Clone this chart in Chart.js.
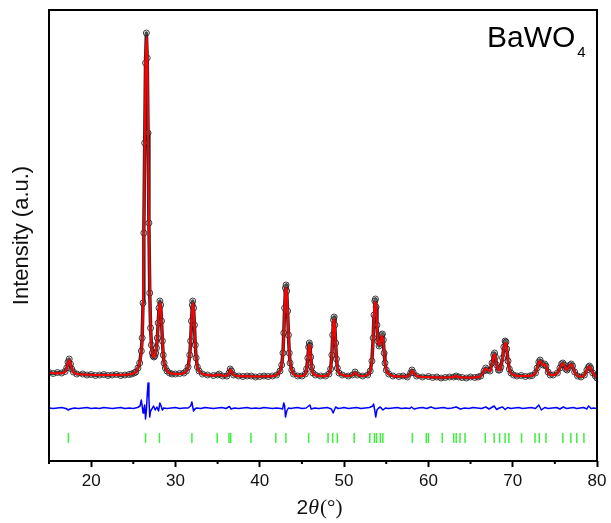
<!DOCTYPE html>
<html>
<head>
<meta charset="utf-8">
<script src="https://cdn.jsdelivr.net/npm/chart.js@4.4.0/dist/chart.umd.min.js"></script>
<style>
  html, body { margin: 0; padding: 0; background: #fff; }
  #wrap { width: 611px; height: 523px; }
</style>
</head>
<body>
<div id="wrap"><canvas id="xrd"></canvas></div>
<script>
// 2theta positions of observed / calculated profile
const twoTheta = [
  15.0, 15.5, 16.0, 16.5, 16.9, 17.1, 17.25, 17.4, 17.55, 17.7, 17.9, 18.3, 19.0, 19.5, 20.0, 20.5,
  21.0, 21.5, 22.0, 22.5, 23.0, 23.5, 24.0, 24.5, 24.8, 25.1, 25.3, 25.55, 25.75, 25.95, 26.05, 26.15,
  26.25, 26.35, 26.45, 26.55, 26.65, 26.75, 26.85, 26.95, 27.05, 27.15, 27.25, 27.35, 27.45, 27.55, 27.65, 27.75,
  27.85, 27.95, 28.05, 28.15, 28.25, 28.35, 28.45, 28.55, 28.65, 28.8, 29.0, 29.3, 29.6, 30.0, 30.5, 31.0,
  31.3, 31.5, 31.7, 31.8, 31.9, 32.0, 32.05, 32.15, 32.25, 32.35, 32.45, 32.6, 32.8, 33.2, 33.8, 34.5,
  35.0, 35.2, 35.6, 36.1, 36.35, 36.5, 36.65, 36.9, 37.5, 38.0, 38.5, 39.0, 39.5, 40.0, 40.5, 41.0,
  41.5, 42.0, 42.4, 42.6, 42.75, 42.85, 42.95, 43.05, 43.12, 43.2, 43.3, 43.4, 43.5, 43.6, 43.8, 44.0,
  44.5, 45.0, 45.4, 45.55, 45.7, 45.8, 45.88, 45.95, 46.05, 46.15, 46.3, 46.6, 47.2, 47.8, 48.2, 48.4,
  48.55, 48.65, 48.75, 48.82, 48.9, 49.0, 49.1, 49.2, 49.4, 49.8, 50.5, 51.0, 51.3, 51.6, 52.2, 52.8,
  53.1, 53.3, 53.45, 53.55, 53.65, 53.72, 53.8, 53.9, 54.0, 54.15, 54.3, 54.45, 54.55, 54.65, 54.75, 54.85,
  55.0, 55.3, 55.8, 56.5, 57.0, 57.5, 57.9, 58.05, 58.2, 58.6, 59.3, 60.0, 60.5, 61.0, 61.5, 62.0,
  62.5, 63.0, 63.3, 63.6, 64.0, 64.5, 65.0, 65.5, 65.9, 66.2, 66.6, 66.8, 67.0, 67.3, 67.55, 67.75,
  67.85, 67.95, 68.1, 68.3, 68.45, 68.6, 68.8, 68.95, 69.1, 69.2, 69.3, 69.45, 69.6, 69.8, 70.1, 70.5,
  71.0, 71.5, 72.0, 72.3, 72.7, 72.9, 73.1, 73.25, 73.4, 73.6, 73.8, 73.95, 74.2, 74.45, 74.8, 75.3,
  75.6, 75.8, 75.95, 76.1, 76.3, 76.45, 76.6, 76.8, 76.95, 77.1, 77.35, 77.7, 78.1, 78.5, 78.8, 79.0,
  79.1, 79.25, 79.5, 79.8, 80.0
];
// observed intensity (a.u.)
const observed = [
  0.5, -0.5, 0.5, 0, 1.5, 5, 11, 14, 9, 4, 1, -1, -1, -2, -1.5, -2.5,
  -2, -1.5, -2.5, -2, -1.5, -2.5, -2, -1.5, -1, 0, 1, 5, 10, 22, 35, 70,
  140, 230, 310, 340, 315, 240, 150, 80, 45, 28, 20, 17, 16, 17, 20, 25,
  35, 50, 65, 72, 68, 52, 32, 18, 10, 5, 2, 0, -1, -1, -0.5, 0,
  2, 6, 18, 32, 52, 68, 72, 65, 48, 28, 15, 6, 2, -1, -2, -2.5,
  -2, -1, -3, -3, 0, 4, 2, -2, -3, -3.5, -3, -3, -4, -3.5, -3, -3.5,
  -3, -2, 2, 8, 20, 40, 65, 85, 88, 82, 62, 38, 20, 10, 3, -1,
  -3, -3, -1, 4, 15, 26, 30, 27, 16, 6, 0, -2, -3, -3, -1, 4,
  18, 38, 53, 56, 48, 30, 14, 5, 0, -2, -3, -2, 1, -2, -3, -2,
  2, 12, 35, 58, 72, 74, 66, 48, 32, 27, 30, 38, 39, 33, 20, 10,
  3, -1, -3, -3.5, -3, -4, 0, 3, 0.5, -3, -4, -3.5, -4.5, -4, -5, -4.5,
  -4, -4, -3, -4, -4.5, -5, -4, -4.5, -4, -3, 2, 5, 3, 2, 10, 18,
  20, 16, 8, 3, 3, 6, 15, 26, 32, 31, 24, 12, 4, 0, -2, -3,
  -2.5, -3.5, -3, -2.5, 0, 5, 11, 13, 10, 8, 9, 7, 1, -2, -2, 0,
  5, 9, 10, 8, 4, 3, 5, 8, 9, 7, 1, -3, -4, -2, 3, 6,
  7, 5, 0, -3, -5
];
// calculated profile (a.u.)
const calculated = [
  0, 0, -0.3, -0.2, 1, 5, 10, 13, 9, 4, 1, -1, -1.5, -1.7, -1.8, -2,
  -2, -2, -2, -2, -2, -2, -1.8, -1.5, -1, 0, 1, 5, 10, 20, 32, 66,
  135, 226, 305, 336, 318, 248, 158, 85, 46, 28, 20, 17, 16, 17, 21, 26,
  36, 50, 63, 70, 67, 52, 33, 19, 11, 5, 2, 0, -0.5, -1, -1, 0,
  2, 6, 17, 31, 50, 66, 70, 64, 48, 29, 16, 6, 2, -1, -2, -2.5,
  -2, -1.5, -2.8, -2.8, -0.5, 3.5, 2, -2, -3, -3.2, -3.3, -3.3, -3.5, -3.5, -3.5, -3.3,
  -3, -2, 2, 8, 19, 38, 62, 82, 85, 81, 62, 39, 21, 10, 3, -1,
  -3, -3, -1, 4, 14, 25, 28, 27, 17, 7, 0, -2, -3, -3, -1, 4,
  17, 36, 52, 54, 48, 31, 15, 6, 0, -2, -3, -2, 0.5, -2, -3, -2,
  2, 12, 34, 56, 70, 71, 66, 49, 33, 28, 31, 37, 36, 32, 21, 11,
  3, -1, -3, -3.5, -3.5, -3.5, 0, 2.5, 0.5, -3, -4, -4, -4.2, -4.5, -4.5, -4.5,
  -4.3, -4, -3, -4, -4.5, -4.5, -4.5, -4.5, -4, -3, 2, 4.5, 3, 2, 9, 17,
  19, 16, 8, 3, 3, 6, 15, 25, 30, 30, 24, 12, 4, 0, -2, -2.8,
  -3, -3, -2.8, -2.5, 0, 5, 10, 12, 10, 8, 8.5, 7, 1, -2, -2, 0,
  5, 8.5, 9.5, 8, 4, 3, 5, 8, 8.5, 7, 1, -3, -3.8, -2, 3, 6,
  6.5, 5, 0, -3, -4.5
];
// difference curve (obs - calc, shifted)
const diffTheta = [
  15.0, 15.5, 16.0, 16.5, 17.0, 17.3, 17.5, 18.0, 18.5, 19.0, 19.5, 20.0, 20.5, 21.0, 21.5, 22.0,
  22.5, 23.0, 23.5, 24.0, 24.5, 25.0, 25.5, 25.8, 25.95, 26.05, 26.15, 26.25, 26.35, 26.45, 26.55, 26.65,
  26.75, 26.85, 26.95, 27.05, 27.2, 27.4, 27.6, 27.8, 28.0, 28.15, 28.3, 28.45, 28.6, 29.0, 29.5, 30.0,
  30.5, 31.0, 31.5, 31.8, 31.95, 32.05, 32.15, 32.3, 32.5, 33.0, 33.5, 34.0, 34.5, 35.0, 35.5, 36.0,
  36.4, 36.6, 37.0, 37.5, 38.0, 38.5, 39.0, 39.5, 40.0, 40.5, 41.0, 41.5, 42.0, 42.5, 42.7, 42.85,
  42.95, 43.05, 43.2, 43.4, 43.7, 44.0, 44.5, 45.0, 45.5, 45.8, 45.95, 46.1, 46.5, 47.0, 47.5, 48.0,
  48.5, 48.7, 48.85, 49.0, 49.3, 49.7, 50.0, 50.5, 51.0, 51.5, 52.0, 52.5, 53.0, 53.4, 53.5, 53.65,
  53.75, 53.9, 54.1, 54.3, 54.6, 54.9, 55.3, 55.8, 56.3, 56.8, 57.3, 57.8, 58.0, 58.3, 58.8, 59.3,
  59.8, 60.3, 60.8, 61.3, 61.8, 62.3, 62.8, 63.3, 63.8, 64.3, 64.8, 65.3, 65.8, 66.3, 66.8, 67.2,
  67.6, 67.8, 68.1, 68.4, 68.8, 69.1, 69.4, 69.8, 70.2, 70.7, 71.2, 71.7, 72.2, 72.7, 73.1, 73.4,
  73.8, 74.2, 74.7, 75.2, 75.6, 76.0, 76.4, 76.8, 77.2, 77.6, 78.0, 78.4, 78.8, 79.0, 79.3, 79.6,
  80.0
];
const difference = [
  -35, -35.5, -35, -34.5, -35.5, -37, -36, -35, -35.5, -35, -34.5, -35.5, -35, -35.5, -34.5, -35,
  -35.5, -35, -34.5, -35.5, -35, -35.5, -34.5, -33, -27, -33, -40, -36, -32, -46, -38, -22,
  -10, -25, -44, -38, -36, -33, -37, -34, -38, -30, -33, -37, -35, -35.5, -35, -34.5,
  -35.5, -35, -35, -33, -29, -34, -38, -36, -35, -35.5, -34.5, -35, -35.5, -35, -34.5, -35.5,
  -33.5, -36, -35, -35.5, -35, -34.5, -35.5, -35, -35.5, -34.5, -35, -35.5, -35, -35.5, -36, -30,
  -33, -44, -38, -35, -35.5, -35, -34.5, -35.5, -35, -33, -32, -36, -35, -35.5, -35, -34.5,
  -36, -40, -37, -34, -35.5, -35, -34.5, -35.5, -35, -34.5, -35.5, -35, -34.5, -33, -31, -38,
  -44, -37, -35, -34, -37, -35, -35.5, -35, -34.5, -35.5, -35, -35.5, -34, -36, -35, -34.5,
  -35.5, -34, -35.5, -35, -34.5, -35.5, -35, -34, -36, -35, -35.5, -34.5, -35, -35.5, -34, -36,
  -34, -33, -36.5, -35, -34, -36.5, -34.5, -35.5, -35, -34.5, -35.5, -35, -34.5, -35.5, -32, -37,
  -34.5, -35.5, -35, -34.5, -36, -34, -35.5, -35, -34.5, -35.5, -35, -34.5, -36, -33, -35.5, -35,
  -35.5
];
// reflection positions (Bragg markers)
const braggPos = [
  17.3, 26.45, 28.1, 31.95, 34.95, 36.35, 36.55, 38.95, 41.9, 43.1, 45.8, 48.1, 48.65, 49.2,
  51.2, 53.05, 53.6, 53.85, 54.3, 54.6, 58.1, 59.75, 60.0, 61.65, 63.0, 63.3, 63.75, 64.35,
  66.75, 67.8, 68.45, 69.1, 69.55, 71.05, 72.65, 73.15, 73.95, 75.95, 76.9, 77.6, 78.45
];
const braggLevel = -65;

const FONT = "'Liberation Sans', Arial, sans-serif";

function pts(xs, ys) {
  return xs.map((x, i) => ({ x: x, y: ys[i] }));
}

// khung + vạch phụ + nhãn
const framePlugin = {
  id: "frame",
  afterDraw(chart) {
    const { ctx, chartArea: a, scales } = chart;
    ctx.save();
    ctx.strokeStyle = "#000";
    ctx.lineWidth = 2;
    ctx.strokeRect(a.left, a.top, a.right - a.left, a.bottom - a.top);

    // minor ticks (15, 25, ...)
    ctx.beginPath();
    scales.x.ticks.forEach(t => {
      if (t.value % 10 !== 0) {
        const px = scales.x.getPixelForValue(t.value);
        ctx.moveTo(px, a.bottom);
        ctx.lineTo(px, a.bottom + 3);
      }
    });
    ctx.stroke();

    // x title: 2θ(°)
    ctx.fillStyle = "#111";
    ctx.textBaseline = "alphabetic";
    const parts = [
      ["2", "21px " + FONT],
      ["\u03B8", "italic 22px 'Liberation Serif', serif"],
      ["(\u00B0)", "21px 'Liberation Serif', serif"]
    ];
    let w = 0;
    parts.forEach(p => { ctx.font = p[1]; w += ctx.measureText(p[0]).width; });
    let x = (a.left + a.right) / 2 - 4 - w / 2;
    parts.forEach(p => {
      ctx.font = p[1];
      ctx.fillText(p[0], x, 514);
      x += ctx.measureText(p[0]).width + (p[0] === "\u03B8" ? 1 : 0);
    });

    // sample label
    ctx.font = "30px " + FONT;
    ctx.fillStyle = "#000";
    ctx.fillText("BaWO", 487, 47);
    const bw = ctx.measureText("BaWO").width;
    ctx.font = "15px " + FONT;
    ctx.fillText("4", 487 + bw + 2, 57);
    ctx.restore();
  }
};

const ctx = document.getElementById("xrd").getContext("2d");
new Chart(ctx, {
  type: "scatter",
  data: {
    datasets: [
      {
        label: "Calculated",
        data: pts(twoTheta, calculated),
        showLine: true,
        borderColor: "#ff0000",
        borderWidth: 2,
        borderJoinStyle: "round",
        pointRadius: 0,
        cubicInterpolationMode: "monotone"
      },
      {
        label: "Observed",
        data: pts(twoTheta, observed),
        showLine: true,
        borderColor: "rgba(15,15,15,0.9)",
        borderWidth: 3.5,
        borderJoinStyle: "round",
        pointRadius: 3,
        pointBorderWidth: 1,
        pointBorderColor: "rgba(30,30,30,0.85)",
        pointBackgroundColor: "rgba(255,255,255,0.15)"
      },
      {
        label: "Difference",
        data: pts(diffTheta, difference),
        showLine: true,
        borderColor: "#0000ff",
        borderWidth: 1.5,
        borderJoinStyle: "round",
        pointRadius: 0
      },
      {
        label: "Bragg",
        data: braggPos.map(x => ({ x: x, y: braggLevel })),
        showLine: false,
        pointStyle: "line",
        rotation: 90,
        pointRadius: 5,
        borderColor: "#3cf03c",
        borderWidth: 1.5
      }
    ]
  },
  options: {
    responsive: true,
    maintainAspectRatio: false,
    animation: false,
    layout: { padding: { top: 10, right: 14, bottom: 0, left: 0 } },
    plugins: {
      legend: { display: false },
      tooltip: { enabled: false }
    },
    scales: {
      x: {
        type: "linear",
        min: 15,
        max: 80,
        border: { display: false },
        grid: {
          drawOnChartArea: false,
          tickLength: 6,
          tickWidth: 2,
          tickColor: c => (c.tick && c.tick.value % 10 === 0 ? "#000" : "rgba(0,0,0,0)")
        },
        ticks: {
          stepSize: 5,
          autoSkip: false,
          maxRotation: 0,
          padding: 4,
          color: "#111",
          font: { family: FONT, size: 17 },
          callback: v => (v % 10 === 0 ? v : "")
        },
        afterFit: s => { s.height = 62; }
      },
      y: {
        min: -88,
        max: 363,
        border: { display: false },
        grid: { display: false },
        ticks: { display: false },
        title: {
          display: true,
          text: "Intensity (a.u.)",
          color: "#111",
          font: { family: FONT, size: 22 },
          padding: { top: 9, bottom: 0 }
        },
        afterFit: s => { s.width = 49; }
      }
    }
  },
  plugins: [framePlugin]
});
</script>
</body>
</html>
